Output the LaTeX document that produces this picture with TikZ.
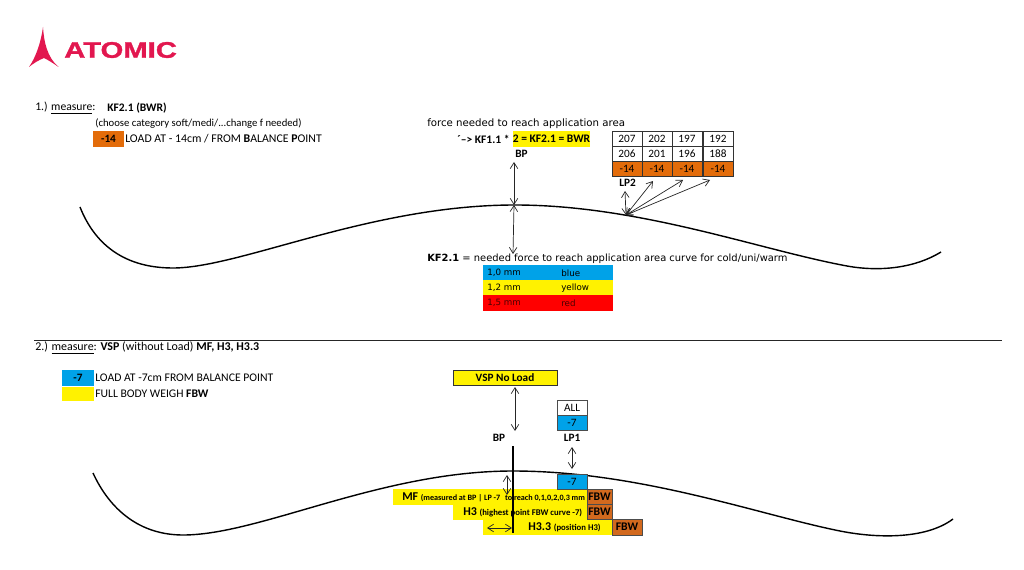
\documentclass[tikz,border=0pt]{standalone}
\usepackage{fontspec}
\setmainfont{Carlito}
\newfontfamily\wideface{DejaVu Sans}
\newfontfamily\logoface[FakeStretch=1.3,FakeBold=1.5]{Liberation Sans}
\usepackage{tikz}
\usetikzlibrary{arrows.meta}
\definecolor{atomicred}{HTML}{E2174F}
\definecolor{loadorange}{HTML}{E36C0A}
\definecolor{loadblue}{HTML}{00A2E8}
\definecolor{fbworange}{HTML}{D2691E}
\begin{document}
\begin{tikzpicture}[x=0.025cm, y=-0.025cm, >={Straight Barb[length=1.5mm,width=1.9mm]}]
        \tikzstyle{cell} = [rectangle, draw=black!80, minimum width=0.75cm, minimum height=0.375cm, inner sep=0pt, font=\fontsize{8}{9}\selectfont]
        \tikzstyle{band} = [rectangle, inner sep=0pt, font=\fontsize{8}{9}\selectfont]
        \tikzstyle{label} = [inner sep=0pt, anchor=west, font=\fontsize{8.3}{9}\selectfont]
        \tikzstyle{widelabel} = [inner sep=0pt, anchor=west, font=\wideface\fontsize{7.05}{9}\selectfont]
        \tikzstyle{rowlabel} = [inner sep=0pt, anchor=west, font=\wideface\fontsize{6.2}{8}\selectfont]
        \tikzstyle{fbw} = [rectangle, draw=black!70, fill=fbworange, inner sep=0pt, font=\fontsize{8.3}{9}\selectfont\bfseries]
        \tikzstyle{arrow} = [<->, line width=0.5pt, black!85]
        \tikzstyle{curve} = [line width=1pt, black]

\useasboundingbox (0,0) rectangle (1024,570);

\fill[atomicred] (43,27) .. controls (44,42) and (47,57) .. (58.5,67) .. controls (53,63) and (48,60) .. (44,58) .. controls (39,60) and (34,63) .. (29,67) .. controls (36,57) and (41,42) .. (43,27) -- cycle;
        \node[inner sep=0pt, anchor=west, text=atomicred, font=\logoface\bfseries\fontsize{16}{18}\selectfont] (logo) at (64,50) {ATOMIC};

\node[label] (titleOne) at (35,108) {1.) \underline{measure}:};
        \node[label, font=\fontsize{8.2}{9}\selectfont\bfseries] (titleKf) at (107,108) {KF2.1 (BWR)};
        \node[label, font=\fontsize{7.6}{9}\selectfont] (category) at (95,124) {(choose category soft/medi/...change f needed)};
        \node[band, fill=loadorange, minimum width=0.775cm, minimum height=0.375cm, font=\fontsize{8}{9}\selectfont\bfseries] (loadOrange) at (108.5,139) {-14};
        \node[label, font=\fontsize{8.4}{9}\selectfont] (loadText) at (125,139) {LOAD AT - 14cm /  FROM \textbf{B}ALANCE \textbf{P}OINT};

\node[widelabel, font=\wideface\fontsize{7.25}{9}\selectfont] (forceText) at (427,123.5) {force needed to reach application area};
        \node[label, font=\fontsize{8.2}{9}\selectfont\bfseries] (kfText) at (457,139) {´--> KF1.1 *};
        \node[band, fill=yellow, minimum width=1.925cm, minimum height=0.375cm, font=\fontsize{8.2}{9}\selectfont\bfseries] (bwrText) at (551.5,139) {2 = KF2.1 = BWR};
        \node[label, font=\fontsize{8}{9}\selectfont\bfseries] (bpOne) at (515,154) {BP};

\node[cell] (a1) at (627,139) {207};
        \node[cell] (a2) at (657,139) {202};
        \node[cell] (a3) at (687,139) {197};
        \node[cell] (a4) at (718,139) {192};
        \node[cell] (b1) at (627,154) {206};
        \node[cell] (b2) at (657,154) {201};
        \node[cell] (b3) at (687,154) {196};
        \node[cell] (b4) at (718,154) {188};
        \node[cell, fill=loadorange] (c1) at (627,169) {-14};
        \node[cell, fill=loadorange] (c2) at (657,169) {-14};
        \node[cell, fill=loadorange] (c3) at (687,169) {-14};
        \node[cell, fill=loadorange] (c4) at (718,169) {-14};
        \node[label, font=\fontsize{8}{9}\selectfont\bfseries] (lpTwo) at (619,183) {LP2};

\draw[curve] (80,207) .. controls (95,245) and (125,268) .. (173,268) .. controls (240,268) and (370,205) .. (515,205) .. controls (640,205) and (760,250) .. (847,266) .. controls (880,272) and (915,268) .. (941,252);

\coordinate (bpTop) at (514,162);
        \coordinate (bpCurve) at (514,205);
        \coordinate (bpLow) at (513,254);
        \coordinate (lpTwoTop) at (625,191);
        \coordinate (lpTwoCurve) at (626,215);
        \coordinate (arrowOne) at (653,181);
        \coordinate (arrowTwo) at (683,180);
        \coordinate (arrowThree) at (710,180);
        \draw[arrow] (bpTop) -- (bpCurve);
        \draw[arrow] (bpCurve) -- (bpLow);
        \draw[arrow] (lpTwoTop) -- (lpTwoCurve);
        \draw[arrow] (lpTwoCurve) -- (arrowOne);
        \draw[arrow] (lpTwoCurve) -- (arrowTwo);
        \draw[arrow] (lpTwoCurve) -- (arrowThree);

\node[widelabel] (kfLong) at (427,258.5) {\textbf{KF2.1} = needed force to reach application area curve for cold/uni/warm};
        \node[band, fill=loadblue, minimum width=3.25cm, minimum height=0.375cm] (rowBlue) at (548,272.5) {};
        \node[band, fill=yellow, minimum width=3.25cm, minimum height=0.375cm] (rowYellow) at (548,287.5) {};
        \node[band, fill=red, minimum width=3.25cm, minimum height=0.4cm] (rowRed) at (548,303) {};
        \node[rowlabel] (blueSize) at (487,273) {1,0 mm};
        \node[rowlabel] (blueName) at (561,273) {blue};
        \node[rowlabel] (yellowSize) at (487,288) {1,2 mm};
        \node[rowlabel] (yellowName) at (561,288) {yellow};
        \node[rowlabel, text=black!70!red] (redSize) at (487,303) {1,5 mm};
        \node[rowlabel, text=black!70!red] (redName) at (561,303) {red};

\coordinate (ruleLeft) at (34,340);
        \coordinate (ruleRight) at (1002,340);
        \draw[black!85, line width=0.6pt] (ruleLeft) -- (ruleRight);

\node[label, font=\fontsize{8.5}{9}\selectfont] (titleTwo) at (35,348) {2.) \underline{measure}: \textbf{VSP} (without Load) \textbf{MF, H3, H3.3}};
        \node[band, fill=loadblue, minimum width=0.775cm, minimum height=0.4cm, font=\fontsize{8}{9}\selectfont\bfseries] (loadBlue) at (78,378) {-7};
        \node[band, fill=yellow, minimum width=0.775cm, minimum height=0.35cm] (loadYellow) at (78,393.5) {};
        \node[label] (loadSeven) at (95,378) {LOAD AT -7cm FROM BALANCE POINT};
        \node[label] (fullBody) at (95,393.5) {FULL BODY WEIGH \textbf{FBW}};

\node[cell, fill=yellow, minimum width=2.6cm, font=\fontsize{8}{9}\selectfont\bfseries] (vsp) at (505,377.5) {VSP No Load};
        \node[cell, draw=black!70] (allBox) at (572,407.5) {ALL};
        \node[cell, draw=black!70, fill=loadblue] (sevenBox) at (572,422.5) {-7};
        \node[inner sep=0pt, font=\fontsize{8}{9}\selectfont\bfseries] (bpTwo) at (499,438) {BP};
        \node[inner sep=0pt, font=\fontsize{8}{9}\selectfont\bfseries] (lpOne) at (572,438) {LP1};

\draw[curve] (93,473) .. controls (110,510) and (140,535) .. (183,535) .. controls (260,535) and (380,471) .. (513,471) .. controls (640,471) and (760,515) .. (840,531) .. controls (875,538) and (925,540) .. (953,519);

\node[band, fill=yellow, anchor=north west, minimum width=4.85cm, minimum height=0.4cm] (mfBand) at (393,489) {};
        \node[band, fill=yellow, anchor=north west, minimum width=3.35cm, minimum height=0.375cm] (hThreeBand) at (453,505) {};
        \node[band, fill=yellow, anchor=north west, minimum width=3.225cm, minimum height=0.375cm] (hBand) at (483,520) {};
        \node[label, font=\fontsize{8.5}{9}\selectfont\bfseries] (mfText) at (402,497.5) {MF \fontsize{5.8}{7}\selectfont (measured at BP | LP -7\hspace{2pt} to reach 0,1,0,2,0,3 mm};
        \node[label, font=\fontsize{8.5}{9}\selectfont\bfseries] (hThreeText) at (463,512.5) {H3 \fontsize{6.2}{7}\selectfont (highest  point FBW curve -7)};
        \node[label, font=\fontsize{8.5}{9}\selectfont\bfseries] (hText) at (528,527.5) {H3.3 \fontsize{6.2}{7}\selectfont (position H3)};

\node[cell, draw=black!70, fill=loadblue] (sevenLow) at (572,481.5) {-7};
        \node[fbw, minimum width=0.625cm, minimum height=0.4cm] (fbwOne) at (599.5,497) {FBW};
        \node[fbw, minimum width=0.625cm, minimum height=0.375cm] (fbwTwo) at (599.5,512) {FBW};
        \node[fbw, minimum width=0.75cm, minimum height=0.4cm] (fbwThree) at (627,527) {FBW};

\coordinate (bpStart) at (513,446);
        \coordinate (bpEnd) at (513,533);
        \draw[line width=1.2pt] (bpStart) -- (bpEnd);
        \coordinate (vspLow) at (515,431);
        \coordinate (vspHigh) at (515,387);
        \draw[arrow] (vspHigh) -- (vspLow);
        \coordinate (lpOneTop) at (572,447);
        \coordinate (lpOneLow) at (572,469);
        \draw[arrow] (lpOneTop) -- (lpOneLow);
        \coordinate (mfTop) at (507,475);
        \coordinate (mfLow) at (507,495);
        \draw[arrow] (mfTop) -- (mfLow);
        \coordinate (posLeft) at (487,528);
        \coordinate (posRight) at (512,528);
        \draw[arrow] (posLeft) -- (posRight);

    \end{tikzpicture}
\end{document}
